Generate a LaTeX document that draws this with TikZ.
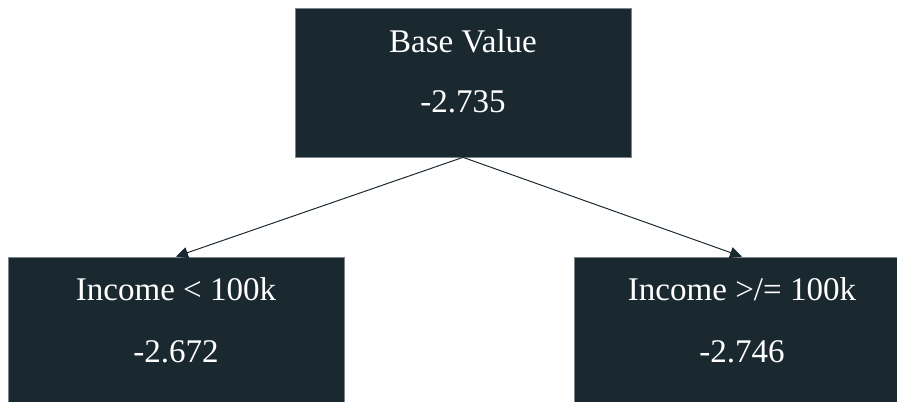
\documentclass[tikz,border=0pt]{standalone}
\usepackage{fontspec}
\setmainfont{Liberation Serif}
\usepackage{tikz}
\usetikzlibrary{arrows.meta,positioning}
\definecolor{boxfill}{HTML}{1A2830}
\definecolor{boxedge}{HTML}{7A858C}

\begin{document}
\begin{tikzpicture}[
    box/.style={draw=boxedge,line width=0.5pt,fill=boxfill,minimum width=8.4cm,minimum height=3.725cm,inner sep=0pt},
    lbl/.style={text=white,font=\fontsize{23.5}{28}\selectfont,anchor=base,inner sep=0pt},
    link/.style={draw=boxfill,line width=0.7pt,-{Triangle[length=0.3cm,width=0.28cm]}}
  ]
  \useasboundingbox (0,0) rectangle (22.425,10.05);
  \clip (0,0) rectangle (22.425,10.05);

  \node[box] (base) at (11.575,7.9875) {};
  \node[box] (low) at (4.4,1.7625) {};
  \node[box] (high) at (18.55,1.7625) {};

  \draw[link] (base.south) -- (low.north);
  \draw[link] (base.south) -- (high.north);

  \node[lbl] (basename) at ([yshift=-1.125cm]base.north) {Base Value};
  \node[lbl] (baseval) at ([yshift=-2.625cm]base.north) {-2.735};
  \node[lbl] (lowname) at ([yshift=-1.1cm]low.north) {Income < 100k};
  \node[lbl] (lowval) at ([yshift=-2.65cm]low.north) {-2.672};
  \node[lbl] (highname) at ([yshift=-1.1cm]high.north) {Income >/= 100k};
  \node[lbl] (highval) at ([yshift=-2.65cm]high.north) {-2.746};
\end{tikzpicture}
\end{document}
